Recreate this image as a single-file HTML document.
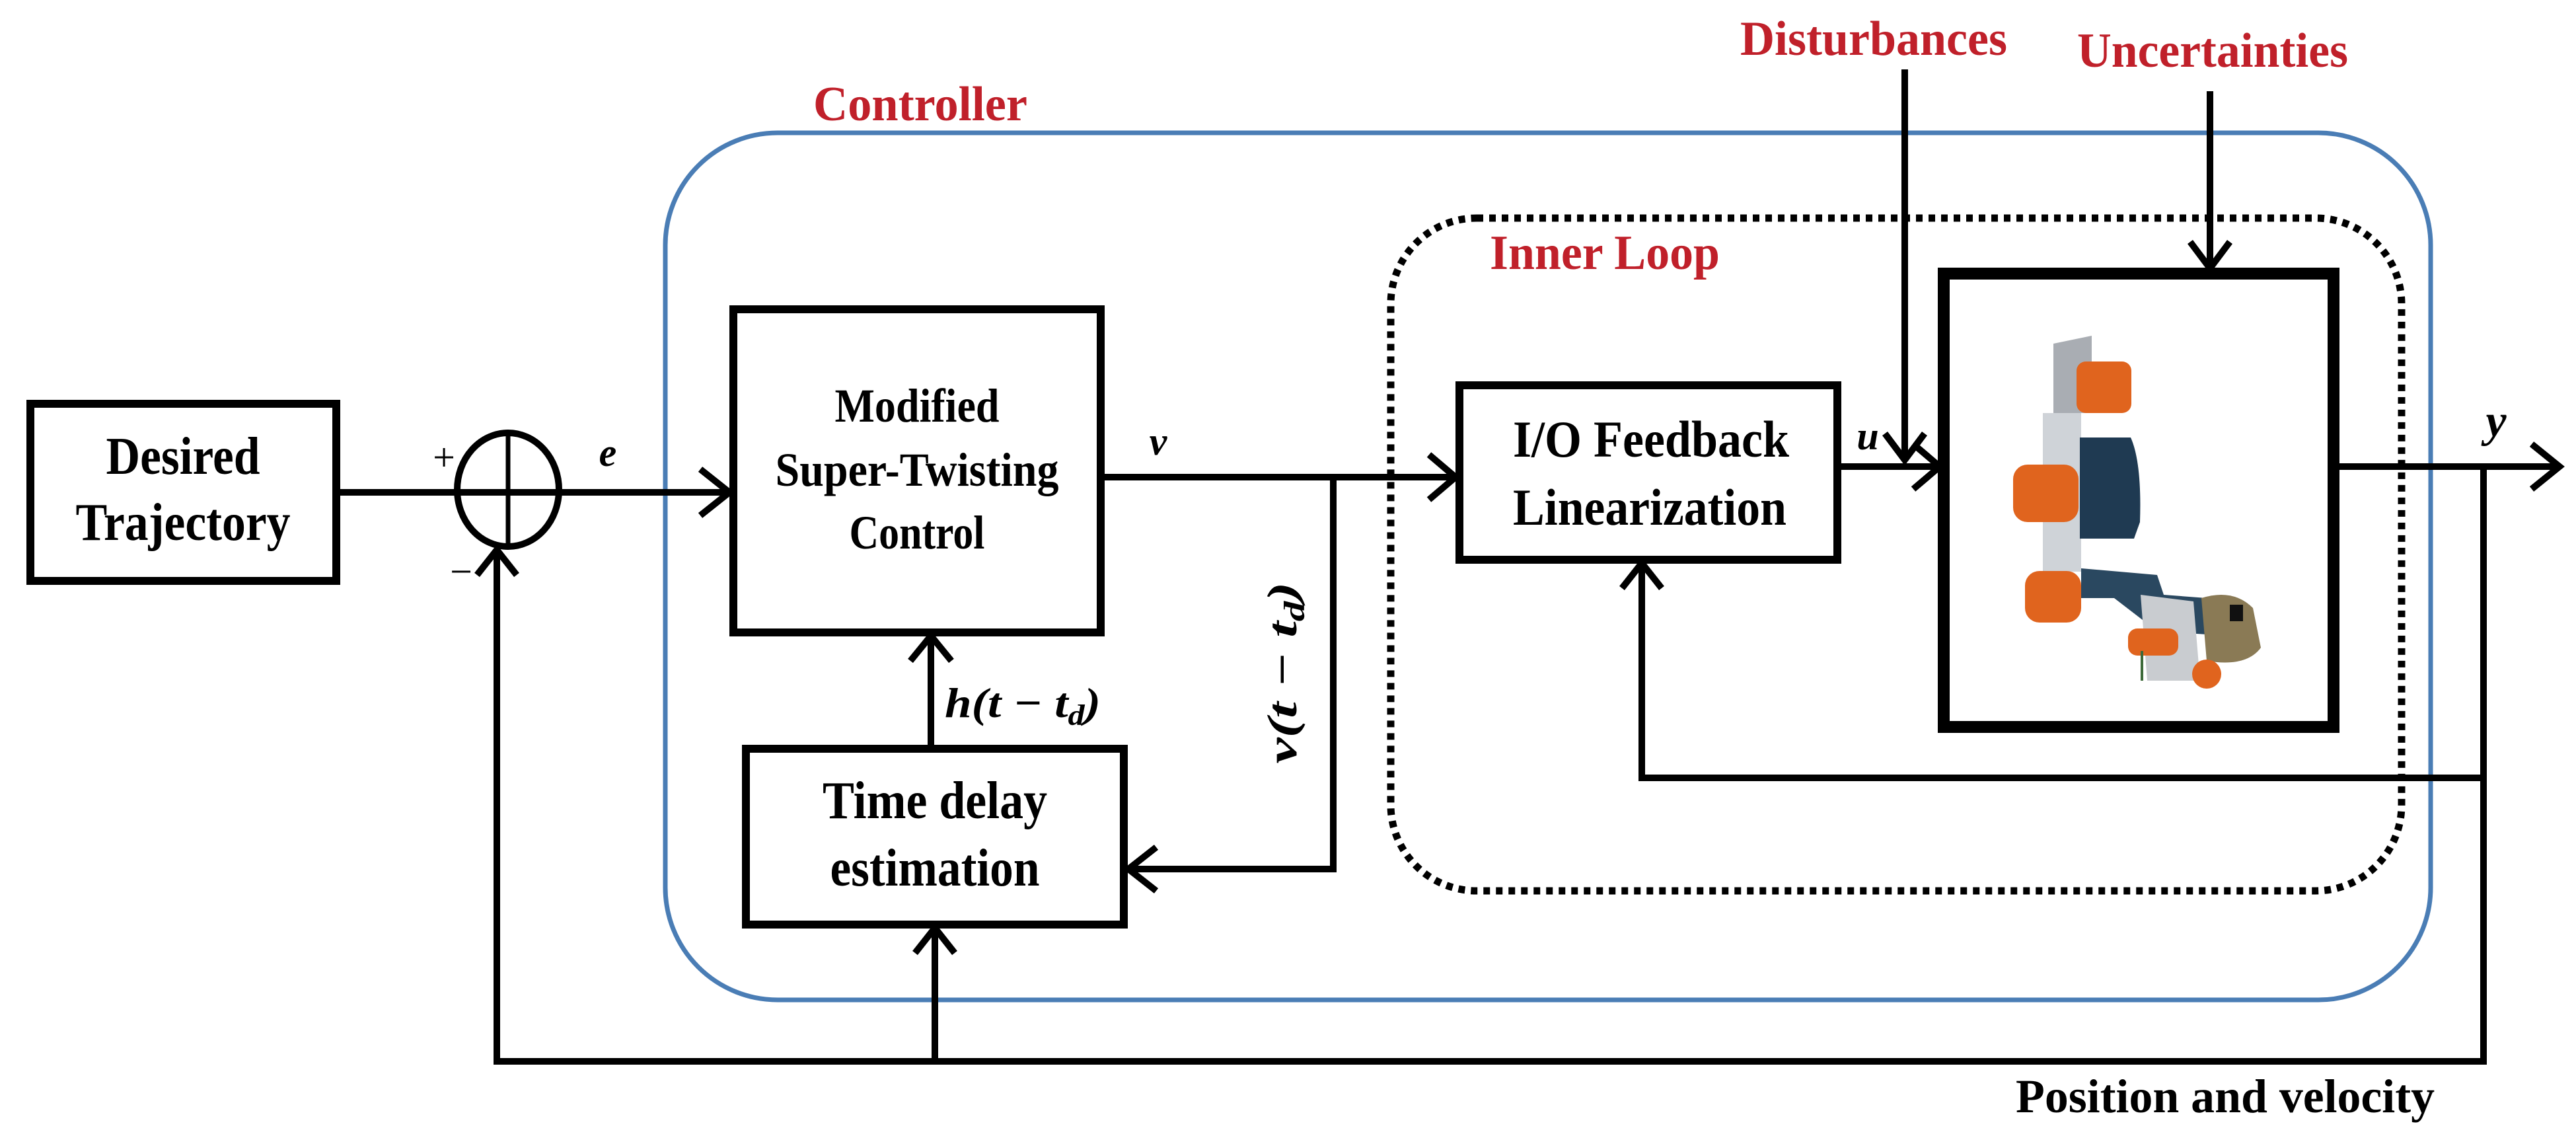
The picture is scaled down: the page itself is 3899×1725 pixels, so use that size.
<!DOCTYPE html>
<html><head><meta charset="utf-8"><style>
html,body{margin:0;padding:0;background:#fff}
svg{display:block}
text{font-family:"Liberation Serif",serif;font-weight:bold;fill:#000}
.r{fill:#c0202a}
.i{font-style:italic}
</style></head><body>
<svg width="3899" height="1725" viewBox="0 0 3899 1725" xmlns="http://www.w3.org/2000/svg">
<g fill="none" stroke="#000" stroke-linejoin="miter">
<!-- controller -->
<rect x="1007" y="201" width="2672" height="1312" rx="170" ry="170" stroke="#4a7db5" stroke-width="7"/>
<!-- inner loop -->
<rect x="2105" y="330" width="1530" height="1018" rx="130" ry="130" stroke-width="11" stroke-dasharray="10 9"/>
<!-- boxes -->
<rect x="46" y="611" width="463" height="268" stroke-width="12"/>
<rect x="1110" y="468" width="556" height="489" stroke-width="12"/>
<rect x="1129" y="1133" width="572" height="266" stroke-width="12"/>
<rect x="2209" y="583" width="572" height="264" stroke-width="12"/>
<rect x="2942" y="414" width="590" height="686" stroke-width="18"/>
<!-- summing junction -->
<ellipse cx="769" cy="741" rx="77" ry="86" stroke-width="10"/>
<line x1="769" y1="655" x2="769" y2="827" stroke-width="7"/>
<!-- lines -->
<g stroke-width="10">
<line x1="509" y1="745" x2="1104" y2="745"/>
<polyline points="1060,710 1104,745 1060,780"/>
<polyline points="1666,722 2018,722 2018,1315 1712,1315"/>
<polyline points="1750,1282 1708,1315 1750,1348"/>
<line x1="2018" y1="722" x2="2203" y2="722"/>
<polyline points="2163,688 2203,722 2163,756"/>
<line x1="1409" y1="1133" x2="1409" y2="963"/>
<polyline points="1378,1000 1409,962 1440,1000"/>
<polyline points="752,833 752,1606 3759,1606 3759,706"/>
<polyline points="722,870 752,832 782,870"/>
<line x1="1415" y1="1606" x2="1415" y2="1405"/>
<polyline points="1385,1442 1415,1404 1445,1442"/>
<polyline points="3759,1177 2485,1177 2485,853"/>
<polyline points="2455,890 2485,852 2515,890"/>
<line x1="2781" y1="706" x2="2936" y2="706"/>
<polyline points="2896,672 2936,706 2896,740"/>
<line x1="2883" y1="105" x2="2883" y2="696"/>
<polyline points="2853,656 2883,696 2913,656"/>
<line x1="3345" y1="138" x2="3345" y2="406"/>
<polyline points="3315,366 3345,406 3375,366"/>
<line x1="3532" y1="706" x2="3874" y2="706"/>
<polyline points="3832,672 3874,706 3832,740"/>
</g>
</g>
<!-- robot -->
<g stroke="none">
<polygon points="3108,520 3166,508 3166,625 3108,625" fill="#a9adb3"/>
<rect x="3092" y="625" width="58" height="240" fill="#cfd3d8"/>
<path d="M3148,662 L3225,662 Q3242,700 3239,790 L3230,815 L3148,815 Z" fill="#1f3a52"/>
<rect x="3143" y="547" width="83" height="78" rx="14" fill="#e0641e"/>
<rect x="3047" y="703" width="99" height="87" rx="22" fill="#e0641e"/>
<rect x="3065" y="864" width="85" height="78" rx="22" fill="#e0641e"/>
<polygon points="3150,860 3265,870 3275,900 3340,905 3340,960 3265,955 3200,905 3150,905" fill="#2a4860"/>
<polygon points="3240,900 3320,910 3330,1030 3250,1030" fill="#c9ccd0"/>
<path d="M3332,905 Q3380,890 3410,920 L3422,980 Q3400,1010 3340,1000 Z" fill="#8a7a55"/>
<rect x="3375" y="915" width="20" height="25" fill="#111"/>
<rect x="3221" y="951" width="76" height="41" rx="14" fill="#e0641e"/>
<circle cx="3340" cy="1020" r="22" fill="#e0641e"/>
<rect x="3240" y="985" width="4" height="45" fill="#3d6a3a"/>
</g>
<!-- text -->
<text x="277" y="717" font-size="80" text-anchor="middle" textLength="233" lengthAdjust="spacingAndGlyphs">Desired</text>
<text x="277" y="817" font-size="80" text-anchor="middle" textLength="325" lengthAdjust="spacingAndGlyphs">Trajectory</text>
<text x="672" y="712" font-size="60" text-anchor="middle" style="font-weight:normal">+</text>
<text x="698" y="885" font-size="60" text-anchor="middle" style="font-weight:normal">−</text>
<text x="920" y="705" font-size="60" class="i" text-anchor="middle">e</text>
<text x="1388" y="638" font-size="72" text-anchor="middle" textLength="249" lengthAdjust="spacingAndGlyphs">Modified</text>
<text x="1388" y="735" font-size="72" text-anchor="middle" textLength="429" lengthAdjust="spacingAndGlyphs">Super-Twisting</text>
<text x="1388" y="830" font-size="72" text-anchor="middle" textLength="205" lengthAdjust="spacingAndGlyphs">Control</text>
<text x="1753" y="688" font-size="60" class="i" text-anchor="middle">v</text>
<text x="1430" y="1085" font-size="64" class="i" textLength="236" lengthAdjust="spacingAndGlyphs">h(t − t<tspan font-size="44" dy="12">d</tspan><tspan dy="-12">)</tspan></text>
<text x="1415" y="1238" font-size="80" text-anchor="middle" textLength="340" lengthAdjust="spacingAndGlyphs">Time delay</text>
<text x="1415" y="1340" font-size="80" text-anchor="middle" textLength="317" lengthAdjust="spacingAndGlyphs">estimation</text>
<text transform="translate(1962,1018) rotate(-90)" font-size="64" class="i" text-anchor="middle" textLength="275" lengthAdjust="spacingAndGlyphs">v(t − t<tspan font-size="44" dy="12">d</tspan><tspan dy="-12">)</tspan></text>
<text x="1393" y="182" font-size="74" class="r" text-anchor="middle" textLength="324" lengthAdjust="spacingAndGlyphs">Controller</text>
<text x="2836" y="83" font-size="74" class="r" text-anchor="middle" textLength="404" lengthAdjust="spacingAndGlyphs">Disturbances</text>
<text x="3349" y="101" font-size="74" class="r" text-anchor="middle" textLength="410" lengthAdjust="spacingAndGlyphs">Uncertainties</text>
<text x="2429" y="407" font-size="74" class="r" text-anchor="middle" textLength="348" lengthAdjust="spacingAndGlyphs">Inner Loop</text>
<text x="2499" y="691" font-size="78" text-anchor="middle" textLength="418" lengthAdjust="spacingAndGlyphs">I/O Feedback</text>
<text x="2497" y="794" font-size="78" text-anchor="middle" textLength="414" lengthAdjust="spacingAndGlyphs">Linearization</text>
<text x="2827" y="680" font-size="60" class="i" text-anchor="middle">u</text>
<text x="3778" y="660" font-size="70" class="i" text-anchor="middle">y</text>
<text x="3368" y="1683" font-size="72" text-anchor="middle" textLength="634" lengthAdjust="spacingAndGlyphs">Position and velocity</text>
</svg>
</body></html>
